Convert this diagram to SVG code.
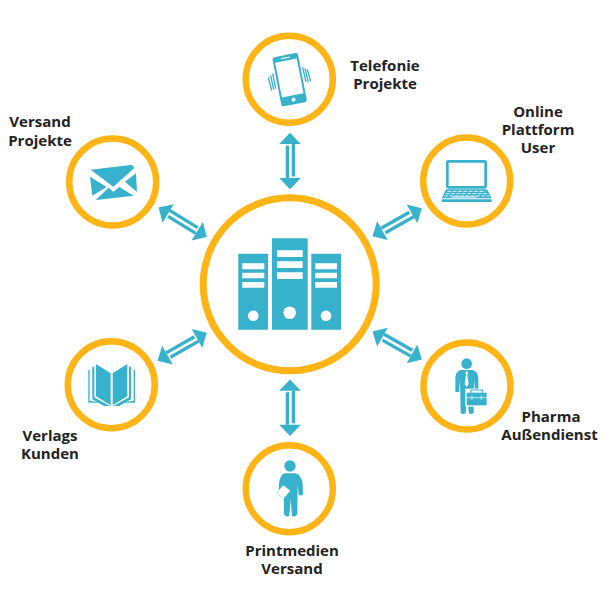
<svg xmlns="http://www.w3.org/2000/svg" width="607" height="607" viewBox="0 0 607 607">
<style>
.ring{fill:#fff;stroke:#fdb414;stroke-width:6.5}
.hub{fill:#fff;stroke:#fdb414;stroke-width:7}
.ic{fill:#38b1cc}
.wh{fill:#fff}
.ln{fill:none;stroke:#38b1cc;stroke-linecap:butt}
.t{font-family:"Open Sans",sans-serif;font-weight:700;font-size:15px;fill:#222;text-anchor:middle}
</style>
<defs>
<g id="arrow">
<path class="ic" d="M0-28.3L10.8-17H-10.8ZM0 28.3L10.8 17H-10.8Z"/>
<path class="ic" d="M-4.3-15.5H-1V17H-4.3ZM1.7-17H5V15.5H1.7Z"/>
</g>
</defs>
<rect width="607" height="607" fill="#fff"/>
<g id="connectors">
<use href="#arrow" transform="translate(290,161)"/>
<use href="#arrow" transform="translate(290,407.7)"/>
<use href="#arrow" transform="translate(182.7,222.3) rotate(-58.5)"/>
<use href="#arrow" transform="translate(397.2,222.2) rotate(60.5)"/>
<use href="#arrow" transform="translate(397.2,345.5) rotate(-60.5)"/>
<use href="#arrow" transform="translate(182.2,346.7) rotate(60.3)"/>
</g>
<g id="hub">
<circle class="hub" cx="289.7" cy="284.3" r="86.5"/>
<path class="ic" d="M238.3 253.7H268V329.7H238.3ZM272 238.3H307.7V329.7H272ZM311.3 253.7H341V329.7H311.3Z"/>
<path class="wh" d="M242.3 263.3H264.3V269.3H242.3ZM242.3 272.7H264.3V278.3H242.3ZM242.3 282H264.3V287.7H242.3ZM277 250.3H302.7V257H277ZM277 261.3H302.7V268H277ZM277 272.3H302.7V279H277ZM315.3 263.3H337V269.3H315.3ZM315.3 272.7H337V278.3H315.3ZM315.3 282H337V287.7H315.3Z"/>
<circle class="wh" cx="253.3" cy="315.7" r="5.3"/>
<circle class="wh" cx="289.7" cy="312.7" r="6.3"/>
<circle class="wh" cx="326" cy="315.7" r="5.3"/>
</g>
<g id="telefonie">
<circle class="ring" cx="289.3" cy="79.3" r="43.5"/>
<g transform="translate(230,20) scale(.33333)">
<g transform="rotate(-11 179 179)">
<rect class="ic" x="140" y="104" width="78" height="150" rx="7"/>
<rect class="wh" x="146" y="121" width="66" height="106"/>
<rect class="wh" x="165" y="111" width="28" height="3"/>
<circle class="wh" cx="179" cy="240" r="6"/>
</g>
<path class="ln" stroke-width="4" d="M115 172L125 212M122 166L131 209M128 160L137 207M218 142L228 186M225 145L235 187M232 148L242 184"/>
</g>
</g>
<text class="t" x="385" y="71">Telefonie</text>
<text class="t" x="385" y="89">Projekte</text>
<g id="versand">
<circle class="ring" cx="112.7" cy="182" r="43.5"/>
<g transform="translate(60,130) scale(.33333)">
<path class="ic" d="M92 119L212 105Q220 105 223 114L160 170Z"/>
<path class="ic" d="M90 140L140 171L97 197Z"/>
<path class="ic" d="M228 130L231 186L195 155Z"/>
<path class="ic" d="M107 210L146 173L160 186L178 171L221 197Z"/>
</g>
</g>
<text class="t" x="40" y="127">Versand</text>
<text class="t" x="40" y="146">Projekte</text>
<g id="online">
<circle class="ring" cx="466.7" cy="181" r="43.5"/>
<g transform="translate(360,130) scale(.33333)">
<rect x="262" y="94" width="115" height="78" rx="3" fill="#fff" stroke="#38b1cc" stroke-width="8"/>
<path class="ic" d="M258 178H381L395 205H245Z"/>
<path class="ic" d="M245 208H395V216H245Z"/>
<path d="M262 184H376M257 191H383M252 198H389" stroke="#fff" stroke-width="2.5" stroke-dasharray="12 4" fill="none"/>
<path d="M275 201H350" stroke="#fff" stroke-width="3" fill="none"/>
</g>
</g>
<text class="t" x="538" y="117">Online</text>
<text class="t" x="538" y="135">Plattform</text>
<text class="t" x="538" y="153">User</text>
<g id="pharma">
<circle class="ring" cx="467" cy="386" r="43.5"/>
<g transform="translate(360,320) scale(.33333)">
<circle class="ic" cx="320" cy="131" r="16"/>
<path class="ic" d="M303 150H337Q353 152 355 172V210H345L342 178L341 280Q334 284 327 280L321 230L317 280Q309 284 302 280L300 178L297 216H286V172Q288 152 303 150Z"/>
<path class="wh" d="M316 155H324L322 166L326 192L320 200L314 192L318 166Z"/>
<path class="wh" d="M316 206H384V260H316Z"/>
<path class="ic" d="M320 218H380V256H320Z"/>
<path d="M333 218V210H367V218" fill="none" stroke="#38b1cc" stroke-width="3.5"/>
<path d="M320 233H380M336 226V240M364 226V240" stroke="#fff" stroke-width="2" fill="none"/>
</g>
</g>
<text class="t" x="551" y="422">Pharma</text>
<text class="t" x="549.5" y="440">Außendienst</text>
<g id="verlags">
<circle class="ring" cx="111.3" cy="384.7" r="43.5"/>
<g transform="translate(60,320) scale(.33333)">
<path class="ic" d="M108 132L152 160V256L108 229ZM202 132L158 160V256L202 229Z"/>
<path class="ic" d="M97 140H103V232L150 258H132L97 238ZM213 140H207V232L160 258H178L213 238Z"/>
<path class="ic" d="M85 150H89V242L128 248H85ZM225 150H221V242L182 248H225Z"/>
</g>
</g>
<text class="t" x="50" y="441">Verlags</text>
<text class="t" x="50" y="459">Kunden</text>
<g id="printmedien">
<circle class="ring" cx="289.3" cy="488.7" r="43.5"/>
<g transform="translate(230,370) scale(.33333)">
<circle class="ic" cx="180" cy="288" r="17"/>
<path class="ic" d="M165 310H196Q214 314 218 340L219 376H206L203 345L202 432Q196 444 186 437L182 388L178 437Q168 444 162 432L161 345L158 372H146L147 340Q150 314 165 310Z"/>
<path class="wh" d="M160 346L181 362L160 386L140 368Z"/>
<path d="M148 362L140 369L160 386" fill="none" stroke="#38b1cc" stroke-width="2" stroke-dasharray="3 2"/>
</g>
</g>
<text class="t" x="292" y="556">Printmedien</text>
<text class="t" x="292" y="574">Versand</text>
</svg>
